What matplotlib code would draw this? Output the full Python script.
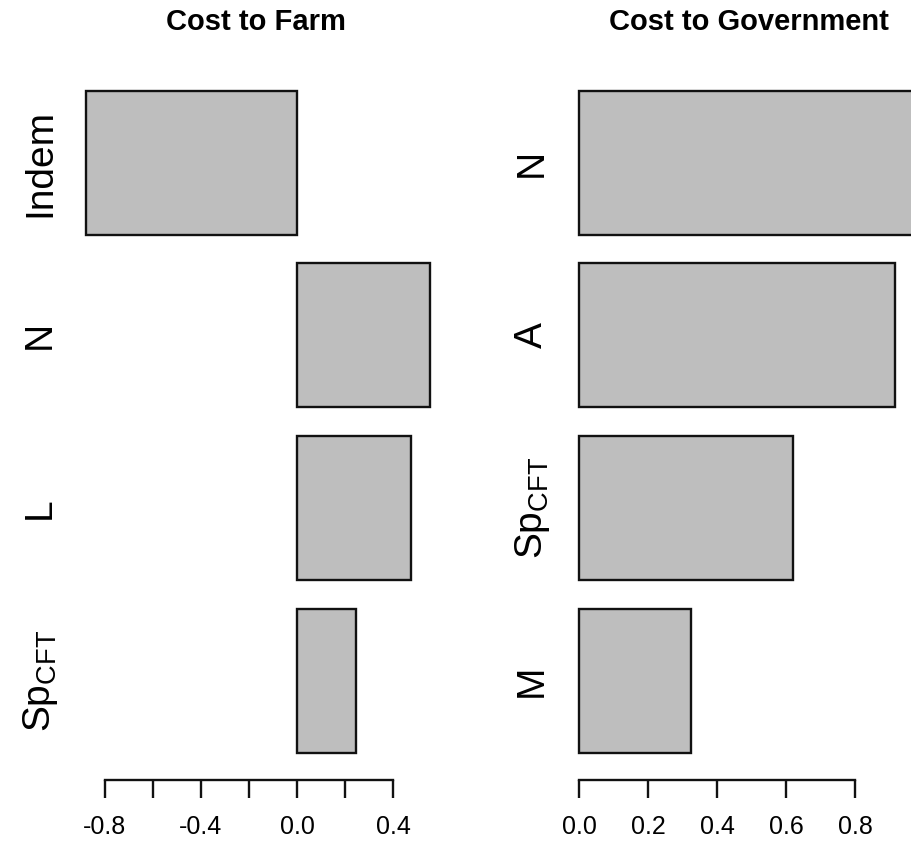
import matplotlib
matplotlib.use("Agg")
import matplotlib.pyplot as plt
import matplotlib.transforms as mtransforms

plt.rcParams['font.family'] = ['Liberation Sans', 'DejaVu Sans']
plt.rcParams['mathtext.fontset'] = 'custom'
plt.rcParams['mathtext.rm'] = 'Liberation Sans'
plt.rcParams['mathtext.it'] = 'Liberation Sans'

# Cost to farm (bottom to top)
farm_labels = [r'$\mathrm{Sp}_{\mathrm{CFT}}$', 'L', 'N', 'Indem']
farm_values = [0.245, 0.475, 0.555, -0.88]
farm_ticks = [-0.8, -0.6, -0.4, -0.2, 0.0, 0.2, 0.4]
farm_ticklabels = ['-0.8', '', '-0.4', '', '0.0', '', '0.4']

# Cost to government (bottom to top)
gov_labels = ['M', r'$\mathrm{Sp}_{\mathrm{CFT}}$', 'A', 'N']
gov_values = [0.325, 0.62, 0.915, 1.0]
gov_ticks = [0.0, 0.2, 0.4, 0.6, 0.8]
gov_ticklabels = ['0.0', '0.2', '0.4', '0.6', '0.8']

W, H = 912, 842
fig = plt.figure(figsize=(W / 100, H / 100), dpi=100)

# bar centres as in R's barplot (width 1, space 0.2)
ypos = [0.7 + 1.2 * i for i in range(4)]


def px_axes(left, right, top, bottom):
    return fig.add_axes([left / W, 1 - bottom / H, (right - left) / W, (bottom - top) / H])


def panel(ax, values, labels, ticks, ticklabels, title, title_x, label_x, xlim):
    ax.barh(ypos, values, height=1.0, left=0, color='#BEBEBE',
            edgecolor='#111111', linewidth=1.7)
    ax.set_xlim(*xlim)
    # pixel mapping: y=0.2 at 753 px, 144 px per unit
    y_bottom = 0.2 - (780 - 753) / 144
    y_top = 0.2 + (753 - 60) / 144
    ax.set_ylim(y_bottom, y_top)
    for s in ['top', 'right', 'left']:
        ax.spines[s].set_visible(False)
    ax.spines['bottom'].set_bounds(ticks[0], ticks[-1])
    ax.spines['bottom'].set_linewidth(1.7)
    ax.spines['bottom'].set_color('#111111')
    ax.set_yticks([])
    ax.set_xticks(ticks)
    ax.set_xticklabels(ticklabels)
    ax.tick_params(axis='x', length=13, width=1.7, color='#111111',
                   pad=12, labelsize=18)
    tr = mtransforms.blended_transform_factory(fig.transFigure, ax.transData)
    for y, lab in zip(ypos, labels):
        ax.text(label_x / W, y, lab, transform=tr, rotation=90,
                rotation_mode='anchor', ha='center', va='baseline',
                fontsize=28, clip_on=False)
    fig.text(title_x / W, 1 - 22 / H, title, ha='center', va='center',
             fontsize=21, fontweight='bold')


# left: data = (px - 297) / 240
axL = px_axes(60, 450, 60, 780)
panel(axL, farm_values, farm_labels, farm_ticks, farm_ticklabels,
      'Cost to Farm', 256, 50,
      ((60 - 297) / 240, (450 - 297) / 240))

# right: data = (px - 579) / 345
axR = px_axes(560, 960, 60, 780)
panel(axR, gov_values, gov_labels, gov_ticks, gov_ticklabels,
      'Cost to Government', 749, 542,
      ((560 - 579) / 345, (960 - 579) / 345))

fig.savefig('out.png', dpi=100)
